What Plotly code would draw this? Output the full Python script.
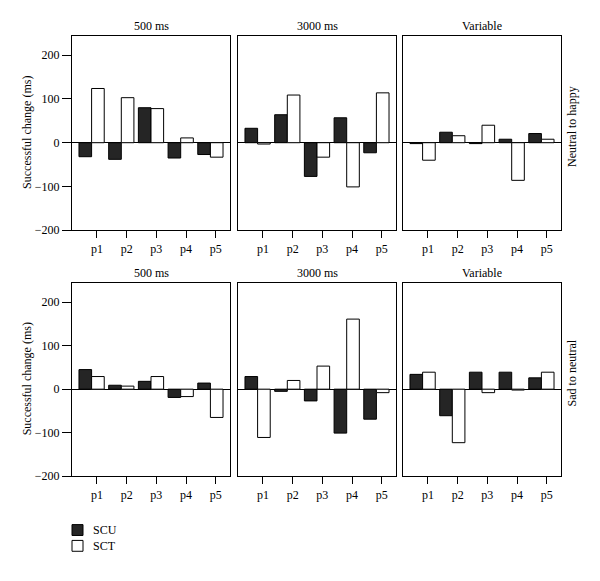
import plotly.graph_objects as go

participants = ["p1", "p2", "p3", "p4", "p5"]
conditions = ["500 ms", "3000 ms", "Variable"]
rows = ["Neutral to happy", "Sad to neutral"]
series_names = ["SCU", "SCT"]

# Neutral to happy
nh_500_scu = [-32, -38, 80, -35, -27]
nh_500_sct = [124, 103, 78, 11, -33]
nh_3000_scu = [33, 64, -77, 57, -23]
nh_3000_sct = [-3, 109, -33, -101, 114]
nh_var_scu = [-2, 24, -2, 8, 21]
nh_var_sct = [-40, 16, 40, -86, 8]

# Sad to neutral
sn_500_scu = [45, 9, 18, -19, 14]
sn_500_sct = [29, 7, 29, -17, -65]
sn_3000_scu = [29, -5, -27, -101, -69]
sn_3000_sct = [-111, 20, 53, 161, -8]
sn_var_scu = [34, -61, 39, 39, 26]
sn_var_sct = [39, -123, -8, -2, 39]

y_ticks = [-200, -100, 0, 100, 200]

data = [
    [(nh_500_scu, nh_500_sct), (nh_3000_scu, nh_3000_sct), (nh_var_scu, nh_var_sct)],
    [(sn_500_scu, sn_500_sct), (sn_3000_scu, sn_3000_sct), (sn_var_scu, sn_var_sct)],
]

W, H = 600, 581
FONT = "Liberation Serif"
COLORS = ["#252525", "white"]
xdoms = [(72, 230), (238, 396), (403, 561)]
ydoms = [(36, 233), (286, 482)]

fig = go.Figure()
pos = [1, 2, 3, 4, 5]
tickpos = [p + 0.18 for p in pos]

k = 0
for r in range(2):
    for c in range(3):
        k += 1
        xa = "x" if k == 1 else f"x{k}"
        ya = "y" if k == 1 else f"y{k}"
        for s, vals in enumerate(data[r][c]):
            fig.add_trace(go.Bar(x=pos, y=vals, name=series_names[s],
                                 marker=dict(color=COLORS[s], line=dict(color="black", width=1)),
                                 xaxis=xa, yaxis=ya, showlegend=False))
        xd = [xdoms[c][0] / W, xdoms[c][1] / W]
        yd = [(H - ydoms[r][1]) / H, (H - ydoms[r][0]) / H]
        xkey = "xaxis" if k == 1 else f"xaxis{k}"
        ykey = "yaxis" if k == 1 else f"yaxis{k}"
        fig.layout[xkey] = dict(domain=xd, anchor=ya, range=[0.34, 5.66], tickvals=tickpos, ticktext=participants,
                                ticks="outside", ticklen=7, tickcolor="black", showline=True, mirror=True,
                                linecolor="black", linewidth=1.3, showgrid=False, zeroline=False,
                                tickfont=dict(family=FONT, size=12, color="black"))
        fig.layout[ykey] = dict(domain=yd, anchor=xa, range=[-200, 245], tickvals=y_ticks,
                                showticklabels=(c == 0), ticks="outside" if c == 0 else "", ticklen=9,
                                tickcolor="black", showline=True, mirror=True, linecolor="black", linewidth=1.3,
                                showgrid=False, zeroline=True, zerolinecolor="black", zerolinewidth=1.2,
                                tickfont=dict(family=FONT, size=12, color="black"))

annotations = []
for r in range(2):
    for c in range(3):
        cx = (xdoms[c][0] + xdoms[c][1]) / 2 / W
        annotations.append(dict(text=conditions[c], x=cx, y=(H - ydoms[r][0] + 9.5) / H, xref="paper", yref="paper",
                                xanchor="center", yanchor="middle", showarrow=False,
                                font=dict(family=FONT, size=12, color="black")))
    cy = (H - (ydoms[r][0] + ydoms[r][1]) / 2) / H
    annotations.append(dict(text="Successful change (ms)", x=27 / W, y=cy, xref="paper", yref="paper",
                            textangle=-90, xanchor="center", yanchor="middle", showarrow=False,
                            font=dict(family=FONT, size=12, color="black")))
    annotations.append(dict(text=rows[r], x=572 / W, y=cy + 6 / H, xref="paper", yref="paper",
                            textangle=-90, xanchor="center", yanchor="middle", showarrow=False,
                            font=dict(family=FONT, size=12, color="black")))

# manual legend
shapes = []
for i, name in enumerate(series_names):
    top = 531 + i * 16
    shapes.append(dict(type="rect", xref="paper", yref="paper", x0=72 / W, x1=83 / W,
                       y0=(H - top - 11) / H, y1=(H - top) / H,
                       fillcolor=COLORS[i], line=dict(color="black", width=1)))
    annotations.append(dict(text=name, x=91 / W, y=(H - top - 5.5) / H, xref="paper", yref="paper",
                            xanchor="left", yanchor="middle", showarrow=False,
                            font=dict(family=FONT, size=12, color="black")))

fig.update_layout(
    width=W, height=H, margin=dict(l=0, r=0, t=0, b=0),
    plot_bgcolor="white", paper_bgcolor="white",
    barmode="group", bargap=0.15, bargroupgap=0,
    annotations=annotations, shapes=shapes, showlegend=False,
)

fig.write_html("out.html", config={"displayModeBar": False},
               post_script="document.body.style.margin='0px';")
